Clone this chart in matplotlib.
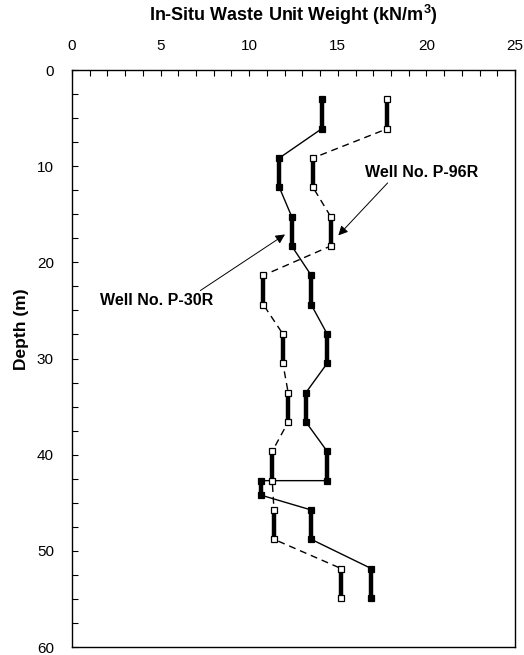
import numpy as np
import matplotlib
matplotlib.use("Agg")
import matplotlib.pyplot as plt
from matplotlib.ticker import MultipleLocator

plt.rcParams['font.family'] = ['Liberation Sans', 'DejaVu Sans']

# Well No. P-30R (filled squares, solid connectors)
p30r_weight = [14.1, 14.1, 11.7, 11.7, 12.4, 12.4, 13.5, 13.5, 14.4, 14.4,
               13.2, 13.2, 14.4, 14.4, 10.65, 10.65, 13.5, 13.5, 16.9, 16.9]
p30r_depth = [3.05, 6.1, 9.15, 12.2, 15.25, 18.3, 21.35, 24.4, 27.45, 30.5,
              33.55, 36.6, 39.65, 42.7, 42.7, 44.2, 45.75, 48.8, 51.85, 54.9]

# Well No. P-96R (open squares, dashed connectors)
p96r_weight = [17.8, 17.8, 13.6, 13.6, 14.6, 14.6, 10.8, 10.8, 11.9, 11.9,
               12.2, 12.2, 11.3, 11.3, 11.4, 11.4, 15.2, 15.2]
p96r_depth = [3.05, 6.1, 9.15, 12.2, 15.25, 18.3, 21.35, 24.4, 27.45, 30.5,
              33.55, 36.6, 39.65, 42.7, 45.75, 48.8, 51.85, 54.9]


def draw_well(ax, w, d, face, ls):
    # thin connectors through every point
    ax.plot(w, d, color='black', linewidth=1.0, linestyle=ls, zorder=2)
    # thick bars over each tested interval
    for i in range(0, len(w), 2):
        ax.plot(w[i:i+2], d[i:i+2], color='black', linewidth=3.2,
                solid_capstyle='butt', zorder=3)
    ax.plot(w, d, linestyle='none', marker='s', markersize=5,
            markerfacecolor=face, markeredgecolor='black',
            markeredgewidth=0.9, zorder=4)


fig = plt.figure(figsize=(5.24, 6.55), dpi=100)
ax = fig.add_axes([0.1374, 0.0122, 0.8454, 0.8809])

draw_well(ax, p30r_weight, p30r_depth, 'black', '-')
draw_well(ax, p96r_weight, p96r_depth, 'white', (0, (5, 3.5)))

ax.set_xlim(0, 25)
ax.set_ylim(60, 0)

ax.xaxis.set_ticks_position('top')
ax.xaxis.set_label_position('top')
ax.xaxis.set_major_locator(MultipleLocator(5))
ax.xaxis.set_minor_locator(MultipleLocator(1))
ax.yaxis.set_major_locator(MultipleLocator(10))
ax.yaxis.set_minor_locator(MultipleLocator(2.5))
ax.tick_params(axis='x', which='both', direction='in', length=4, width=0.8,
               labelsize=11, pad=12)
ax.tick_params(axis='y', which='both', direction='in', length=4, width=0.8,
               labelsize=11, pad=13)

ax.set_xlabel('In-Situ Waste Unit Weight (kN/m$^\\mathregular{3}$)',
              fontsize=13, fontweight='bold')
ax.xaxis.label.set_va('center')
ax.xaxis.set_label_coords(0.5, 1.095)
ax.set_ylabel('Depth (m)', fontsize=12.5, fontweight='bold')
ax.yaxis.label.set_va('center')
ax.yaxis.set_label_coords(-0.115, 0.55)

# keep the bottom "60" label inside the figure
ax.yaxis.get_major_ticks()[-1].label1.set_va('bottom')

for s in ax.spines.values():
    s.set_linewidth(1.0)

ax.annotate('Well No. P-96R', xy=(15.03, 17.2), xytext=(19.75, 10.67),
            fontsize=11.5, fontweight='bold', ha='center', va='center',
            arrowprops=dict(arrowstyle='-|>', color='black', lw=0.7,
                            mutation_scale=14, shrinkA=0, shrinkB=0,
                            relpos=(0.22, 0.0)))
ax.annotate('Well No. P-30R', xy=(12.02, 17.1), xytext=(4.77, 24.0),
            fontsize=11.5, fontweight='bold', ha='center', va='center',
            arrowprops=dict(arrowstyle='-|>', color='black', lw=0.7,
                            mutation_scale=14, shrinkA=0, shrinkB=0,
                            relpos=(0.85, 1.0)))

fig.savefig('out.png', dpi=100)
